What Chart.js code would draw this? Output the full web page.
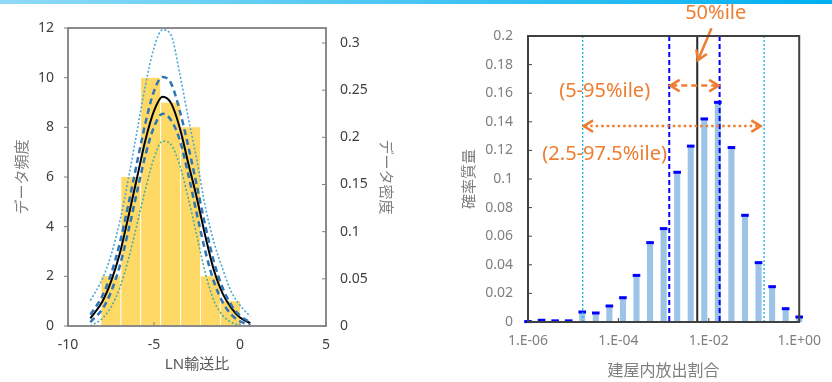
<!DOCTYPE html>
<html>
<head>
<meta charset="utf-8">
<script src="https://cdn.jsdelivr.net/npm/chart.js@4.4.1/dist/chart.umd.min.js"></script>
<style>
html, body { margin: 0; padding: 0; background: #fff; }
#wrap { position: relative; width: 832px; height: 382px; overflow: hidden; }
#band { position: absolute; left: 0; top: 0; width: 832px; height: 4px; background: linear-gradient(to right, #8fdaf6, #00b0f0); }
#left { position: absolute; left: 0; top: 0; }
#right { position: absolute; left: 420px; top: 0; }
</style>
</head>
<body>
<div id="wrap">
  <canvas id="left" width="420" height="382"></canvas>
  <canvas id="right" width="412" height="382"></canvas>
  <div id="band"></div>
</div>
<script>
// left chart: histogram of LN transfer ratio + fitted densities
var binCenters = [-7.52, -6.36, -5.21, -4.05, -2.89, -1.74, -0.58];
var binCounts = [2, 6, 10, 9, 8, 2, 1];
var curveX = [-8.7, -8, -7.5, -7, -6.5, -6, -5.5, -5, -4.5, -4, -3.5, -3, -2.5, -2, -1.5, -1, -0.5, 0, 0.6];
var pdfMean = [0.008, 0.026, 0.047, 0.076, 0.115, 0.156, 0.197, 0.228, 0.243, 0.236, 0.210, 0.172, 0.135, 0.094, 0.058, 0.034, 0.019, 0.009, 0.003];
var pdfUpper = [0.012, 0.032, 0.055, 0.087, 0.128, 0.172, 0.215, 0.249, 0.264, 0.257, 0.228, 0.190, 0.148, 0.105, 0.067, 0.040, 0.022, 0.011, 0.004];
var pdfLower = [0.004, 0.018, 0.036, 0.063, 0.100, 0.141, 0.181, 0.211, 0.225, 0.218, 0.197, 0.160, 0.118, 0.078, 0.046, 0.025, 0.012, 0.005, 0.001];
var pdfOuterUpper = [0.027, 0.050, 0.075, 0.110, 0.155, 0.205, 0.255, 0.295, 0.314, 0.308, 0.267, 0.220, 0.175, 0.125, 0.088, 0.060, 0.036, 0.022, 0.010];
var pdfOuterLower = [0.000, 0.008, 0.020, 0.040, 0.070, 0.107, 0.145, 0.178, 0.196, 0.192, 0.170, 0.135, 0.095, 0.055, 0.026, 0.011, 0.004, 0.001, 0.000];

// right chart: probability mass vs log10(release fraction)
var binExp = [-6, -5.7, -5.4, -5.1, -4.8, -4.5, -4.2, -3.9, -3.6, -3.3, -3, -2.7, -2.4, -2.1, -1.8, -1.5, -1.2, -0.9, -0.6, -0.3, 0];
var binProb = [0.0003, 0.0012, 0.0008, 0.0008, 0.007, 0.0063, 0.0112, 0.017, 0.0326, 0.0555, 0.0653, 0.1047, 0.123, 0.142, 0.1536, 0.122, 0.0746, 0.0415, 0.0247, 0.0093, 0.0035];
// percentiles (log10): 2.5, 5, 50, 95, 97.5
var pctExp = [-4.79, -2.875, -2.256, -1.761, -0.776];

var FONT = "'Noto Sans', 'Noto Sans CJK JP', sans-serif";
var ORANGE = "#ED7D31";

function xy(xs, ys) {
  return xs.map(function (x, i) { return { x: x, y: ys[i] }; });
}

// 0.30 -> 0.3, like Excel
function plain(v) {
  return String(+(+v).toFixed(4));
}

function curve(ys, color, width, dash) {
  return {
    type: "line",
    data: xy(curveX, ys),
    yAxisID: "y2",
    borderColor: color,
    borderWidth: width,
    borderDash: dash,
    pointRadius: 0,
    fill: false,
    cubicInterpolationMode: "monotone",
    order: 1,
  };
}

// plot frame + small tick marks
function framePlugin(color, lw, tickDefs) {
  return {
    id: "frame",
    afterDraw: function (chart) {
      var ctx = chart.ctx;
      var a = chart.chartArea;
      ctx.save();
      ctx.strokeStyle = color;
      ctx.lineWidth = lw;
      ctx.strokeRect(a.left, a.top, a.right - a.left, a.bottom - a.top);
      ctx.lineWidth = 1;
      tickDefs.forEach(function (d) {
        var s = chart.scales[d.id];
        s.ticks.forEach(function (t) {
          var p = s.getPixelForValue(t.value);
          ctx.beginPath();
          if (d.side == "leftOut") { ctx.moveTo(a.left - 4, p); ctx.lineTo(a.left, p); }
          if (d.side == "leftIn") { ctx.moveTo(a.left, p); ctx.lineTo(a.left + 4, p); }
          if (d.side == "rightIn") { ctx.moveTo(a.right - 4, p); ctx.lineTo(a.right, p); }
          if (d.side == "bottomIn") { ctx.moveTo(p, a.bottom); ctx.lineTo(p, a.bottom - 4); }
          ctx.stroke();
        });
      });
      ctx.restore();
    },
  };
}

function drawHead(ctx, x, y, ang, size) {
  ctx.setLineDash([]);
  ctx.beginPath();
  ctx.moveTo(x - size * Math.cos(ang - 0.55), y - size * Math.sin(ang - 0.55));
  ctx.lineTo(x, y);
  ctx.lineTo(x - size * Math.cos(ang + 0.55), y - size * Math.sin(ang + 0.55));
  ctx.stroke();
}

var percentilePlugin = {
  id: "percentiles",
  afterDatasetsDraw: function (chart) {
    var ctx = chart.ctx;
    var a = chart.chartArea;
    var sx = chart.scales.x;
    var sy = chart.scales.y;
    var styles = [
      { c: "#00B0F0", w: 1.2, d: [2, 2] },
      { c: "#0000FF", w: 2, d: [5, 3] },
      { c: "#262626", w: 2, d: [] },
      { c: "#0000FF", w: 2, d: [5, 3] },
      { c: "#00B0F0", w: 1.2, d: [2, 2] },
    ];
    ctx.save();
    pctExp.forEach(function (v, i) {
      var px = sx.getPixelForValue(v);
      ctx.strokeStyle = styles[i].c;
      ctx.lineWidth = styles[i].w;
      ctx.setLineDash(styles[i].d);
      ctx.beginPath();
      ctx.moveTo(px, a.top);
      ctx.lineTo(px, a.bottom);
      ctx.stroke();
    });

    // annotations
    ctx.strokeStyle = ORANGE;
    ctx.fillStyle = ORANGE;
    ctx.lineWidth = 2.5;

    // 50%ile arrow
    var x0 = sx.getPixelForValue(-1.94), y0 = sy.getPixelForValue(0.2054);
    var x1 = sx.getPixelForValue(-2.241), y1 = sy.getPixelForValue(0.183);
    ctx.setLineDash([]);
    ctx.beginPath();
    ctx.moveTo(x0, y0);
    ctx.lineTo(x1, y1);
    ctx.stroke();
    drawHead(ctx, x1, y1, Math.atan2(y1 - y0, x1 - x0), 11);

    // 5-95 double arrow (dashed)
    var ya = sy.getPixelForValue(0.1653);
    var xa = sx.getPixelForValue(pctExp[1]), xb = sx.getPixelForValue(pctExp[3]);
    ctx.setLineDash([6, 4]);
    ctx.beginPath();
    ctx.moveTo(xa + 2, ya);
    ctx.lineTo(xb - 2, ya);
    ctx.stroke();
    drawHead(ctx, xa + 1, ya, Math.PI, 11);
    drawHead(ctx, xb - 1, ya, 0, 11);

    // 2.5-97.5 double arrow (dotted)
    var yb = sy.getPixelForValue(0.137);
    var xc = sx.getPixelForValue(-4.79), xd = sx.getPixelForValue(-0.83);
    ctx.setLineDash([2.5, 3]);
    ctx.beginPath();
    ctx.moveTo(xc + 2, yb);
    ctx.lineTo(xd - 2, yb);
    ctx.stroke();
    drawHead(ctx, xc + 1, yb, Math.PI, 11);
    drawHead(ctx, xd - 1, yb, 0, 11);

    ctx.font = "20px " + FONT;
    ctx.textAlign = "center";
    ctx.textBaseline = "middle";
    ctx.fillText("50%ile", sx.getPixelForValue(-1.847), sy.getPixelForValue(0.2159));
    ctx.fillText("(5-95%ile)", sx.getPixelForValue(-4.304), sy.getPixelForValue(0.1615));
    ctx.fillText("(2.5-97.5%ile)", sx.getPixelForValue(-4.304), sy.getPixelForValue(0.1173));
    ctx.restore();
  },
};

function leftChart() {
  var config = {
    type: "bar",
    data: {
      datasets: [
        {
          type: "bar",
          data: xy(binCenters, binCounts),
          yAxisID: "y",
          backgroundColor: "#FFD966",
          borderColor: "#ffffff",
          borderWidth: { left: 1, right: 0, top: 0, bottom: 0 },
          borderSkipped: false,
          barPercentage: 1,
          categoryPercentage: 1,
          order: 10,
        },
        curve(pdfOuterUpper, "#4AA8D8", 1.6, [2, 2]),
        curve(pdfOuterLower, "#4BAE9F", 1.6, [2, 2]),
        curve(pdfUpper, "#2E75B6", 2.5, [6, 4]),
        curve(pdfLower, "#2E75B6", 2.5, [6, 4]),
        curve(pdfMean, "#000000", 2, []),
      ],
    },
    options: {
      responsive: false,
      animation: false,
      layout: { padding: { top: 28 } },
      plugins: { legend: { display: false }, tooltip: { enabled: false } },
      scales: {
        x: {
          type: "linear",
          min: -10,
          max: 5,
          offset: false,
          grid: { display: false, drawTicks: false },
          border: { display: false },
          ticks: { stepSize: 5, padding: 11, color: "#404040", font: { family: FONT, size: 14 } },
          title: { display: true, text: "LN輸送比", color: "#595959", padding: { top: 0, bottom: 8 }, font: { family: FONT, size: 15 } },
          afterFit: function (s) { s.height = 56; },
        },
        y: {
          position: "left",
          min: 0,
          max: 12,
          grid: { display: false, drawTicks: false },
          border: { display: false },
          ticks: { stepSize: 2, padding: 14, color: "#404040", font: { family: FONT, size: 14 } },
          title: { display: true, text: "データ頻度", color: "#7F7F7F", padding: { top: 14, bottom: 0 }, font: { family: FONT, size: 15 } },
          afterFit: function (s) { s.width = 68; },
        },
        y2: {
          position: "right",
          min: 0,
          max: 0.3159,
          grid: { display: false, drawTicks: false },
          border: { display: false },
          ticks: { stepSize: 0.05, includeBounds: false, padding: 14, color: "#404040", font: { family: FONT, size: 14 }, callback: plain },
          title: { display: true, text: "データ密度", color: "#7F7F7F", padding: { top: 26, bottom: 0 }, font: { family: FONT, size: 15 } },
          afterFit: function (s) { s.width = 94; },
        },
      },
    },
    plugins: [framePlugin("#808080", 1.8, [{ id: "y", side: "leftOut" }, { id: "y2", side: "rightIn" }, { id: "x", side: "bottomIn" }])],
  };
  new Chart(document.getElementById("left"), config);
}

function rightChart() {
  var config = {
    type: "bar",
    data: {
      datasets: [
        {
          type: "bar",
          data: xy(binExp, binProb),
          backgroundColor: "#9DC3E6",
          barPercentage: 0.45,
          categoryPercentage: 1,
          clip: false,
          order: 10,
        },
        {
          type: "line",
          data: xy(binExp, binProb),
          showLine: false,
          pointStyle: "line",
          pointRadius: 3.8,
          pointBorderWidth: 3,
          pointBorderColor: "#0000FF",
          clip: false,
          order: 1,
        },
      ],
    },
    options: {
      responsive: false,
      animation: false,
      layout: { padding: { top: 36, right: 25 } },
      plugins: { legend: { display: false }, tooltip: { enabled: false } },
      scales: {
        x: {
          type: "linear",
          min: -6,
          max: 0,
          offset: false,
          grid: { display: false, drawTicks: false },
          border: { display: false },
          ticks: {
            stepSize: 2,
            padding: 11,
            color: "#7F7F7F",
            font: { family: FONT, size: 14 },
            callback: function (v) {
              var n = Math.round(Math.abs(v));
              return "1.E" + (v < 0 ? "-" : "+") + (n < 10 ? "0" : "") + n;
            },
          },
          title: { display: true, text: "建屋内放出割合", color: "#7F7F7F", padding: { top: 0, bottom: 1 }, font: { family: FONT, size: 16 } },
          afterFit: function (s) { s.height = 60; },
        },
        y: {
          min: 0,
          max: 0.2,
          grid: { display: false, drawTicks: false },
          border: { display: false },
          ticks: { stepSize: 0.02, padding: 15, color: "#7F7F7F", font: { family: FONT, size: 14 }, callback: plain },
          title: { display: true, text: "確率質量", color: "#7F7F7F", padding: { top: 41, bottom: 0 }, font: { family: FONT, size: 15 } },
          afterFit: function (s) { s.width = 108; },
        },
      },
    },
    plugins: [percentilePlugin, framePlugin("#404040", 2, [{ id: "y", side: "leftIn" }, { id: "x", side: "bottomIn" }])],
  };
  new Chart(document.getElementById("right"), config);
}

leftChart();
rightChart();
</script>
</body>
</html>
